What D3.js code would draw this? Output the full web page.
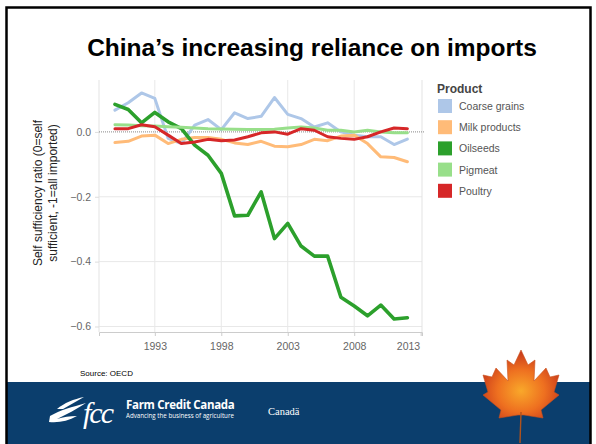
<!DOCTYPE html>
<html>
<head>
<meta charset="utf-8">
<script src="https://cdn.jsdelivr.net/npm/d3@7"></script>
<style>
  html, body { margin: 0; padding: 0; background: #fff; }
  svg { display: block; font-family: "Liberation Sans", Arial, sans-serif; }
</style>
</head>
<body>
<svg id="chart" width="596" height="444"></svg>
<script>
// Self sufficiency ratio by product, China, 1990-2012 (OECD)
const years = d3.range(1990, 2013);
const products = ["Coarse grains", "Milk products", "Oilseeds", "Pigmeat", "Poultry"];
const colors = ["#aec7e8", "#ffbb78", "#2ca02c", "#98df8a", "#d62728"];

const coarseGrains = [0.067, 0.09, 0.12, 0.103, -0.02, -0.036, 0.021, 0.038, 0.007, 0.059, 0.041, 0.048, 0.106, 0.054, 0.041, 0.015, 0.028, 0.0, -0.01, -0.015, -0.015, -0.039, -0.022];
const milkProducts = [-0.033, -0.029, -0.013, -0.01, -0.036, -0.023, -0.017, -0.017, -0.023, -0.034, -0.039, -0.029, -0.044, -0.046, -0.039, -0.023, -0.027, -0.013, -0.01, -0.036, -0.077, -0.079, -0.092];
const oilseeds = [0.085, 0.069, 0.028, 0.06, 0.031, 0.01, -0.041, -0.072, -0.128, -0.259, -0.257, -0.185, -0.329, -0.282, -0.352, -0.383, -0.383, -0.51, -0.537, -0.567, -0.534, -0.577, -0.573];
const pigmeat = [0.022, 0.021, 0.019, 0.018, 0.016, 0.014, 0.012, 0.01, 0.009, 0.008, 0.007, 0.007, 0.008, 0.012, 0.015, 0.012, 0.005, 0.005, 0.0, 0.005, 0.0, -0.003, -0.003];
const poultry = [0.01, 0.01, 0.022, 0.016, -0.01, -0.036, -0.031, -0.023, -0.027, -0.025, -0.015, -0.003, 0.0, -0.007, 0.01, 0.005, -0.015, -0.02, -0.023, -0.015, 0.0, 0.012, 0.01];
const seriesValues = [coarseGrains, milkProducts, oilseeds, pigmeat, poultry];

const yTicks = [0.0, -0.2, -0.4, -0.6];
const xTicks = [1993, 1998, 2003, 2008, 2013];

const svg = d3.select("#chart");
const W = 596, H = 444;

svg.append("rect").attr("x", 0).attr("y", 0).attr("width", W).attr("height", H).attr("fill", "#fff");

// Footer band
svg.append("rect").attr("x", 6).attr("y", 382).attr("width", 585).attr("height", 62).attr("fill", "#0b3e6d");

// Slide frame
svg.append("rect").attr("x", 6.5).attr("y", 7.5).attr("width", 584).attr("height", 440)
  .attr("fill", "none").attr("stroke", "#000").attr("stroke-width", 2.5);

// Title
svg.append("text").attr("x", 312).attr("y", 56).attr("text-anchor", "middle")
  .attr("font-size", 24.5).attr("font-weight", "bold").attr("fill", "#000")
  .text("China\u2019s increasing reliance on imports");

// Plot area
const plot = { left: 99, right: 422, top: 80, bottom: 332 };
const x = d3.scaleLinear().domain([1988.8, 2013.1]).range([plot.left, plot.right]);
const y = d3.scaleLinear().domain([-0.617, 0.16]).range([plot.bottom, plot.top]);

const g = svg.append("g");

// Grid
g.selectAll(".vgrid").data(xTicks.slice(0, 4)).join("line")
  .attr("x1", d => x(d)).attr("x2", d => x(d))
  .attr("y1", plot.top).attr("y2", plot.bottom)
  .attr("stroke", "#e8e8e8").attr("stroke-width", 1);
g.selectAll(".hgrid").data(yTicks.slice(1)).join("line")
  .attr("x1", plot.left).attr("x2", plot.right)
  .attr("y1", d => y(d)).attr("y2", d => y(d))
  .attr("stroke", "#e8e8e8").attr("stroke-width", 1);

// Pane borders
g.append("line").attr("x1", plot.left).attr("x2", plot.left).attr("y1", plot.top).attr("y2", plot.bottom)
  .attr("stroke", "#e3e3e3");
g.append("line").attr("x1", plot.right).attr("x2", plot.right).attr("y1", plot.top).attr("y2", plot.bottom)
  .attr("stroke", "#e3e3e3");

// Axes
const yAxis = d3.axisLeft(y).tickValues(yTicks).tickSize(4).tickFormat(d3.format(".1f"));
const ya = g.append("g").attr("transform", `translate(${plot.left},0)`).call(yAxis);
ya.select(".domain").remove();
ya.selectAll(".tick line").attr("stroke", "#ddd");
ya.selectAll(".tick text").attr("fill", "#666").attr("font-size", 10.5)
  .attr("font-family", "'Liberation Sans', Arial, sans-serif").attr("dx", "-1");

const xAxis = d3.axisBottom(x).tickValues(xTicks).tickSize(4).tickFormat(d3.format("d"));
const xa = g.append("g").attr("transform", `translate(0,${plot.bottom})`).call(xAxis);
xa.select(".domain").attr("stroke", "#ccc");
xa.selectAll(".tick line").attr("stroke", "#ccc");
xa.selectAll(".tick text").attr("fill", "#666").attr("font-size", 10.5)
  .attr("font-family", "'Liberation Sans', Arial, sans-serif").attr("dy", "1.05em");
xa.selectAll(".tick text").filter(d => d === 2013).attr("text-anchor", "end").attr("dx", -1);

// Zero reference line
g.append("line").attr("x1", plot.left).attr("x2", plot.right + 3)
  .attr("y1", y(0)).attr("y2", y(0))
  .attr("stroke", "#888").attr("stroke-width", 1).attr("stroke-dasharray", "1,1");

// Series lines
const line = d3.line().x((d, i) => x(years[i])).y(d => y(d));
g.selectAll(".series").data(seriesValues).join("path")
  .attr("d", d => line(d))
  .attr("fill", "none")
  .attr("stroke", (d, i) => colors[i])
  .attr("stroke-width", (d, i) => i === 2 ? 3.6 : 3)
  .attr("stroke-linejoin", "round").attr("stroke-linecap", "round");

// Y-axis title
const yt = svg.append("text").attr("transform", "translate(42,193) rotate(-90)")
  .attr("text-anchor", "middle").attr("font-size", 12).attr("fill", "#222");
yt.append("tspan").attr("x", 0).attr("dy", 0).text("Self sufficiency ratio (0=self");
yt.append("tspan").attr("x", 0).attr("dy", 15).text("sufficient, -1=all imported)");

// Legend
const lg = svg.append("g").attr("transform", "translate(437,0)");
lg.append("text").attr("x", 0).attr("y", 93).attr("font-size", 12).attr("font-weight", "bold")
  .attr("fill", "#444").text("Product");
const items = lg.selectAll(".item").data(products).join("g")
  .attr("transform", (d, i) => `translate(0,${99 + i * 21.2})`);
items.append("rect").attr("x", 1).attr("y", 0).attr("width", 14).attr("height", 14)
  .attr("fill", (d, i) => colors[i]);
items.append("text").attr("x", 22).attr("y", 11).attr("font-size", 10.5).attr("fill", "#555").text(d => d);

// Source
svg.append("text").attr("x", 80).attr("y", 376).attr("font-size", 8).attr("fill", "#000").text("Source: OECD");

// Footer: FCC wordmark
const logo = svg.append("g").attr("fill", "#fff");
logo.append("path").attr("d", "M50,416 C60,410 72,407 86,403 C77,409 67,414 57,419 C63,417 70,416 77,416 C68,421 59,423 49,422 Z");
logo.append("path").attr("d", "M57,409 C64,403 74,399 84,397 C77,401 70,405 63,409 Z");
logo.append("text").attr("x", 83).attr("y", 423).attr("font-family", "'Liberation Serif', 'DejaVu Serif', serif")
  .attr("font-style", "italic").attr("font-size", 30).attr("letter-spacing", -2).text("fcc");
logo.append("text").attr("x", 126).attr("y", 409).attr("font-size", 11.5).attr("font-weight", "bold")
  .attr("font-family", "'Open Sans', Arial, sans-serif").attr("letter-spacing", -0.3).text("Farm Credit Canada");
logo.append("text").attr("x", 126).attr("y", 418).attr("font-size", 6.2)
  .attr("font-family", "'Open Sans', Arial, sans-serif").text("Advancing the business of agriculture");
logo.append("text").attr("x", 268).attr("y", 415).attr("font-size", 10.5)
  .attr("font-family", "'Liberation Serif', 'DejaVu Serif', serif").text("Canad\u00e4");

// Footer: maple leaf
const defs = svg.append("defs");
const grad = defs.append("radialGradient").attr("id", "leafGrad").attr("cx", "50%").attr("cy", "60%").attr("r", "62%");
grad.append("stop").attr("offset", "0%").attr("stop-color", "#f9a82a");
grad.append("stop").attr("offset", "50%").attr("stop-color", "#ee7020");
grad.append("stop").attr("offset", "100%").attr("stop-color", "#c2301a");
const cx = 521;
const half = [[0,350],[7,365],[14,360],[13,381],[25,368],[29,377],[38,375],[33,392],[38,395],[20,410],[22,418],[3,415]];
const leafPts = half.map(p => [cx + p[0], p[1]])
  .concat(half.slice(1).reverse().map(p => [cx - p[0], p[1]]));
svg.append("path").attr("d", "M" + leafPts.map(p => p.join(",")).join("L") + "Z")
  .attr("fill", "url(#leafGrad)").attr("stroke", "#c8501c").attr("stroke-width", 0.6);
svg.append("path").attr("d", `M${cx},412 L${cx - 1},443`).attr("stroke", "#b0521c").attr("stroke-width", 1.4);
</script>
</body>
</html>
